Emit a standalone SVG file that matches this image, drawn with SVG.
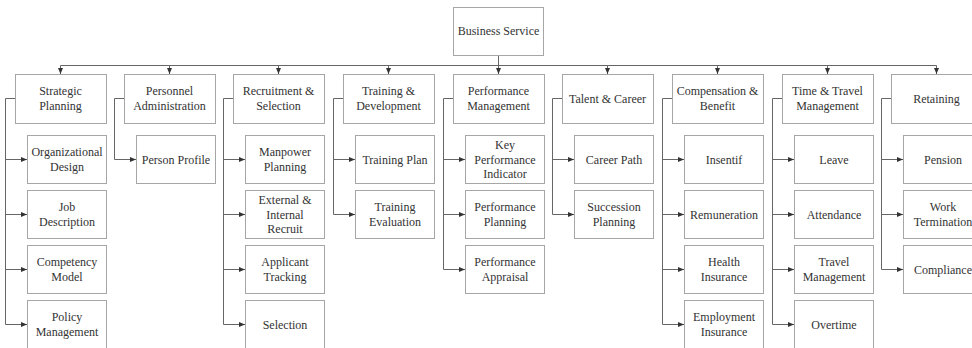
<svg xmlns="http://www.w3.org/2000/svg" width="972" height="348" viewBox="0 0 972 348">
<style>
.box{fill:#fff;stroke:#a6a6a6;stroke-width:1}
.lbl{font-family:"Liberation Serif","Times New Roman",serif;font-size:12px;fill:#333;text-anchor:middle}
.con{fill:none;stroke:#666;stroke-width:1}
</style>
<defs>
<marker id="ah" markerUnits="userSpaceOnUse" markerWidth="6" markerHeight="6" refX="6" refY="3" orient="auto">
<path d="M0,0.5 L6,3 L0,5.5 z" fill="#333"/>
</marker>
</defs>
<rect width="972" height="348" fill="#fff"/>
<g id="connectors">
<path class="con" d="M498.5,55 V65.5"/>
<path class="con" d="M60.5,65.5 H936.5"/>
<path class="con" marker-end="url(#ah)" d="M60.5,65.5 V74"/>
<path class="con" marker-end="url(#ah)" d="M169.5,65.5 V74"/>
<path class="con" marker-end="url(#ah)" d="M278.5,65.5 V74"/>
<path class="con" marker-end="url(#ah)" d="M388.5,65.5 V74"/>
<path class="con" marker-end="url(#ah)" d="M498.5,65.5 V74"/>
<path class="con" marker-end="url(#ah)" d="M607.5,65.5 V74"/>
<path class="con" marker-end="url(#ah)" d="M717.5,65.5 V74"/>
<path class="con" marker-end="url(#ah)" d="M827.5,65.5 V74"/>
<path class="con" marker-end="url(#ah)" d="M936.5,65.5 V74"/>
<!-- col 0 -->
<path class="con" d="M15,98.5 H5.5 V324.5"/>
<path class="con" marker-end="url(#ah)" d="M5.5,159.5 H27"/>
<path class="con" marker-end="url(#ah)" d="M5.5,214.5 H27"/>
<path class="con" marker-end="url(#ah)" d="M5.5,269.5 H27"/>
<path class="con" marker-end="url(#ah)" d="M5.5,324.5 H27"/>
<!-- col 1 -->
<path class="con" d="M124,98.5 H114.5 V159.5"/>
<path class="con" marker-end="url(#ah)" d="M114.5,159.5 H136"/>
<!-- col 2 -->
<path class="con" d="M233,98.5 H223.5 V324.5"/>
<path class="con" marker-end="url(#ah)" d="M223.5,159.5 H245"/>
<path class="con" marker-end="url(#ah)" d="M223.5,214.5 H245"/>
<path class="con" marker-end="url(#ah)" d="M223.5,269.5 H245"/>
<path class="con" marker-end="url(#ah)" d="M223.5,324.5 H245"/>
<!-- col 3 -->
<path class="con" d="M343,98.5 H333.5 V214.5"/>
<path class="con" marker-end="url(#ah)" d="M333.5,159.5 H355"/>
<path class="con" marker-end="url(#ah)" d="M333.5,214.5 H355"/>
<!-- col 4 -->
<path class="con" d="M453,98.5 H443.5 V269.5"/>
<path class="con" marker-end="url(#ah)" d="M443.5,159.5 H465"/>
<path class="con" marker-end="url(#ah)" d="M443.5,214.5 H465"/>
<path class="con" marker-end="url(#ah)" d="M443.5,269.5 H465"/>
<!-- col 5 -->
<path class="con" d="M562,98.5 H552.5 V214.5"/>
<path class="con" marker-end="url(#ah)" d="M552.5,159.5 H574"/>
<path class="con" marker-end="url(#ah)" d="M552.5,214.5 H574"/>
<!-- col 6 -->
<path class="con" d="M672,98.5 H662.5 V324.5"/>
<path class="con" marker-end="url(#ah)" d="M662.5,159.5 H684"/>
<path class="con" marker-end="url(#ah)" d="M662.5,214.5 H684"/>
<path class="con" marker-end="url(#ah)" d="M662.5,269.5 H684"/>
<path class="con" marker-end="url(#ah)" d="M662.5,324.5 H684"/>
<!-- col 7 -->
<path class="con" d="M782,98.5 H772.5 V324.5"/>
<path class="con" marker-end="url(#ah)" d="M772.5,159.5 H794"/>
<path class="con" marker-end="url(#ah)" d="M772.5,214.5 H794"/>
<path class="con" marker-end="url(#ah)" d="M772.5,269.5 H794"/>
<path class="con" marker-end="url(#ah)" d="M772.5,324.5 H794"/>
<!-- col 8 -->
<path class="con" d="M891,98.5 H881.5 V269.5"/>
<path class="con" marker-end="url(#ah)" d="M881.5,159.5 H903"/>
<path class="con" marker-end="url(#ah)" d="M881.5,214.5 H903"/>
<path class="con" marker-end="url(#ah)" d="M881.5,269.5 H903"/>
</g>
<g id="business-service"><rect class="box" x="453.5" y="7.5" width="90" height="48"/><text class="lbl" x="498.5" y="35">Business Service</text></g>

<g id="strategic-planning"><rect class="box" x="15.5" y="74.5" width="91" height="49"/><text class="lbl" x="60.5" y="95">Strategic</text><text class="lbl" x="60.5" y="110">Planning</text></g>
<g id="organizational-design"><rect class="box" x="27.5" y="135.5" width="79" height="48"/><text class="lbl" x="67" y="155.5">Organizational</text><text class="lbl" x="67" y="171">Design</text></g>
<g id="job-description"><rect class="box" x="27.5" y="190.5" width="79" height="48"/><text class="lbl" x="67" y="210.5">Job</text><text class="lbl" x="67" y="226">Description</text></g>
<g id="competency-model"><rect class="box" x="27.5" y="245.5" width="79" height="48"/><text class="lbl" x="67" y="265.5">Competency</text><text class="lbl" x="67" y="281">Model</text></g>
<g id="policy-management"><rect class="box" x="27.5" y="300.5" width="79" height="48"/><text class="lbl" x="67" y="320.5">Policy</text><text class="lbl" x="67" y="336">Management</text></g>

<g id="personnel-administration"><rect class="box" x="124.5" y="74.5" width="91" height="49"/><text class="lbl" x="169.5" y="95">Personnel</text><text class="lbl" x="169.5" y="110">Administration</text></g>
<g id="person-profile"><rect class="box" x="136.5" y="135.5" width="79" height="48"/><text class="lbl" x="176" y="163.5">Person Profile</text></g>

<g id="recruitment-selection"><rect class="box" x="233.5" y="74.5" width="91" height="49"/><text class="lbl" x="278.5" y="95">Recruitment &amp;</text><text class="lbl" x="278.5" y="110">Selection</text></g>
<g id="manpower-planning"><rect class="box" x="245.5" y="135.5" width="79" height="48"/><text class="lbl" x="285" y="155.5">Manpower</text><text class="lbl" x="285" y="171">Planning</text></g>
<g id="external-internal-recruit"><rect class="box" x="245.5" y="190.5" width="79" height="48"/><text class="lbl" x="285" y="204">External &amp;</text><text class="lbl" x="285" y="218.5">Internal</text><text class="lbl" x="285" y="233">Recruit</text></g>
<g id="applicant-tracking"><rect class="box" x="245.5" y="245.5" width="79" height="48"/><text class="lbl" x="285" y="265.5">Applicant</text><text class="lbl" x="285" y="281">Tracking</text></g>
<g id="selection"><rect class="box" x="245.5" y="300.5" width="79" height="48"/><text class="lbl" x="285" y="328.5">Selection</text></g>

<g id="training-development"><rect class="box" x="343.5" y="74.5" width="91" height="49"/><text class="lbl" x="388.5" y="95">Training &amp;</text><text class="lbl" x="388.5" y="110">Development</text></g>
<g id="training-plan"><rect class="box" x="355.5" y="135.5" width="79" height="48"/><text class="lbl" x="395" y="163.5">Training Plan</text></g>
<g id="training-evaluation"><rect class="box" x="355.5" y="190.5" width="79" height="48"/><text class="lbl" x="395" y="210.5">Training</text><text class="lbl" x="395" y="226">Evaluation</text></g>

<g id="performance-management"><rect class="box" x="453.5" y="74.5" width="91" height="49"/><text class="lbl" x="498.5" y="95">Performance</text><text class="lbl" x="498.5" y="110">Management</text></g>
<g id="key-performance-indicator"><rect class="box" x="465.5" y="135.5" width="79" height="48"/><text class="lbl" x="505" y="149">Key</text><text class="lbl" x="505" y="163.5">Performance</text><text class="lbl" x="505" y="178">Indicator</text></g>
<g id="performance-planning"><rect class="box" x="465.5" y="190.5" width="79" height="48"/><text class="lbl" x="505" y="210.5">Performance</text><text class="lbl" x="505" y="226">Planning</text></g>
<g id="performance-appraisal"><rect class="box" x="465.5" y="245.5" width="79" height="48"/><text class="lbl" x="505" y="265.5">Performance</text><text class="lbl" x="505" y="281">Appraisal</text></g>

<g id="talent-career"><rect class="box" x="562.5" y="74.5" width="91" height="49"/><text class="lbl" x="607.5" y="102.5">Talent &amp; Career</text></g>
<g id="career-path"><rect class="box" x="574.5" y="135.5" width="79" height="48"/><text class="lbl" x="614" y="163.5">Career Path</text></g>
<g id="succession-planning"><rect class="box" x="574.5" y="190.5" width="79" height="48"/><text class="lbl" x="614" y="210.5">Succession</text><text class="lbl" x="614" y="226">Planning</text></g>

<g id="compensation-benefit"><rect class="box" x="672.5" y="74.5" width="91" height="49"/><text class="lbl" x="717.5" y="95">Compensation &amp;</text><text class="lbl" x="717.5" y="110">Benefit</text></g>
<g id="insentif"><rect class="box" x="684.5" y="135.5" width="79" height="48"/><text class="lbl" x="724" y="163.5">Insentif</text></g>
<g id="remuneration"><rect class="box" x="684.5" y="190.5" width="79" height="48"/><text class="lbl" x="724" y="218.5">Remuneration</text></g>
<g id="health-insurance"><rect class="box" x="684.5" y="245.5" width="79" height="48"/><text class="lbl" x="724" y="265.5">Health</text><text class="lbl" x="724" y="281">Insurance</text></g>
<g id="employment-insurance"><rect class="box" x="684.5" y="300.5" width="79" height="48"/><text class="lbl" x="724" y="320.5">Employment</text><text class="lbl" x="724" y="336">Insurance</text></g>

<g id="time-travel-management"><rect class="box" x="782.5" y="74.5" width="91" height="49"/><text class="lbl" x="827.5" y="95">Time &amp; Travel</text><text class="lbl" x="827.5" y="110">Management</text></g>
<g id="leave"><rect class="box" x="794.5" y="135.5" width="79" height="48"/><text class="lbl" x="834" y="163.5">Leave</text></g>
<g id="attendance"><rect class="box" x="794.5" y="190.5" width="79" height="48"/><text class="lbl" x="834" y="218.5">Attendance</text></g>
<g id="travel-management"><rect class="box" x="794.5" y="245.5" width="79" height="48"/><text class="lbl" x="834" y="265.5">Travel</text><text class="lbl" x="834" y="281">Management</text></g>
<g id="overtime"><rect class="box" x="794.5" y="300.5" width="79" height="48"/><text class="lbl" x="834" y="328.5">Overtime</text></g>

<g id="retaining"><rect class="box" x="891.5" y="74.5" width="91" height="49"/><text class="lbl" x="936.5" y="102.5">Retaining</text></g>
<g id="pension"><rect class="box" x="903.5" y="135.5" width="79" height="48"/><text class="lbl" x="943" y="163.5">Pension</text></g>
<g id="work-termination"><rect class="box" x="903.5" y="190.5" width="79" height="48"/><text class="lbl" x="943" y="210.5">Work</text><text class="lbl" x="943" y="226">Termination</text></g>
<g id="compliance"><rect class="box" x="903.5" y="245.5" width="79" height="48"/><text class="lbl" x="943" y="273.5">Compliance</text></g>
</svg>
